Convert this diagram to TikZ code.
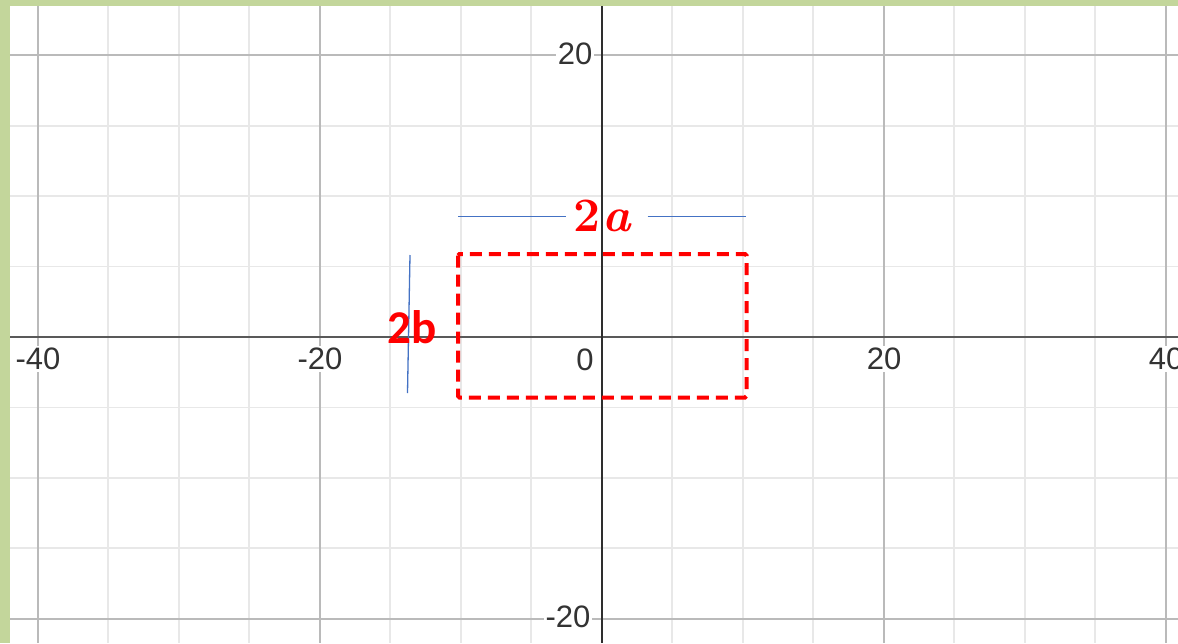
\documentclass[tikz,border=0pt]{standalone}
\usepackage{fontspec}
\newfontfamily\tickfont{Liberation Sans}
\newfontfamily\labfont{Carlito}
\definecolor{frame}{HTML}{C3D69B}
\definecolor{dimblue}{HTML}{4472C4}
\definecolor{ticktext}{HTML}{333333}
\begin{document}
\begin{tikzpicture}[x=1pt,y=-1pt,
  minor/.style={draw=black!9, line width=1.8pt},
  major/.style={draw=black!27, line width=2pt},
  xaxis/.style={draw=black!65, line width=2.6pt},
  yaxis/.style={draw=black!82, line width=2pt},
  ticklab/.style={fill=white, inner sep=2pt, text=ticktext, font=\tickfont\fontsize{31}{31}\selectfont},
  dimline/.style={draw=dimblue, line width=1.3pt},
  rectline/.style={draw=red, line width=4pt, dash pattern=on 12pt off 7pt, rounded corners=1.5pt},
  redlab/.style={text=red, inner sep=0pt}]
\useasboundingbox (0,0) rectangle (1178,643);
\fill[frame] (0,0) rectangle (1178,643);
\fill[white] (10,6) rectangle (1178,643);
\begin{scope}
\clip (10,6) rectangle (1178,643);
\foreach \k in {-35,-30,-25,-15,-10,-5,5,10,15,25,30,35}
  \draw[minor] ({601.7+14.1*\k},6) -- ({601.7+14.1*\k},643);
\foreach \k in {-15,-10,-5,5,10,15}
  \draw[minor] (10,{337-14.09*\k}) -- (1178,{337-14.09*\k});
\foreach \k in {-40,-20,20,40}
  \draw[major] ({601.7+14.1*\k},6) -- ({601.7+14.1*\k},643);
\foreach \k in {-20,20}
  \draw[major] (10,{337-14.09*\k}) -- (1178,{337-14.09*\k});
\coordinate (xl) at (10,337);
\coordinate (xr) at (1178,337);
\coordinate (yt) at (601.7,6);
\coordinate (yb) at (601.7,643);
\draw[xaxis] (xl) -- (xr);
\draw[yaxis] (yt) -- (yb);
\node[ticklab] (xm40) at (38,359) {-40};
\node[ticklab] (xm20) at (320,359) {-20};
\node[ticklab] (x0) at (585,360) {0};
\node[ticklab] (x20) at (884,359) {20};
\node[ticklab] (x40) at (1166,359) {40};
\node[ticklab] (y20) at (575,54) {20};
\node[ticklab] (ym20) at (568,617) {-20};
\end{scope}
% rectangle
\coordinate (r1) at (458,254);
\coordinate (r2) at (746.5,397.5);
\draw[rectline] (r1) rectangle (r2);
% dimension lines
\coordinate (a1) at (458,216.5);
\coordinate (a2) at (565.5,216.5);
\coordinate (a3) at (647.5,216.5);
\coordinate (a4) at (746,216.5);
\draw[dimline] (a1) -- (a2);
\draw[dimline] (a3) -- (a4);
\coordinate (b1) at (410,255);
\coordinate (b2) at (407.5,393);
\draw[dimline] (b1) -- (b2);
\node[redlab, font=\bfseries\fontsize{48}{48}\selectfont] (lab2a) at (603,216) {2\kern2pt\textit{a}};
\node[redlab, font=\labfont\bfseries\fontsize{47}{47}\selectfont] (lab2b) at (412,327) {2b};
\end{tikzpicture}
\end{document}
